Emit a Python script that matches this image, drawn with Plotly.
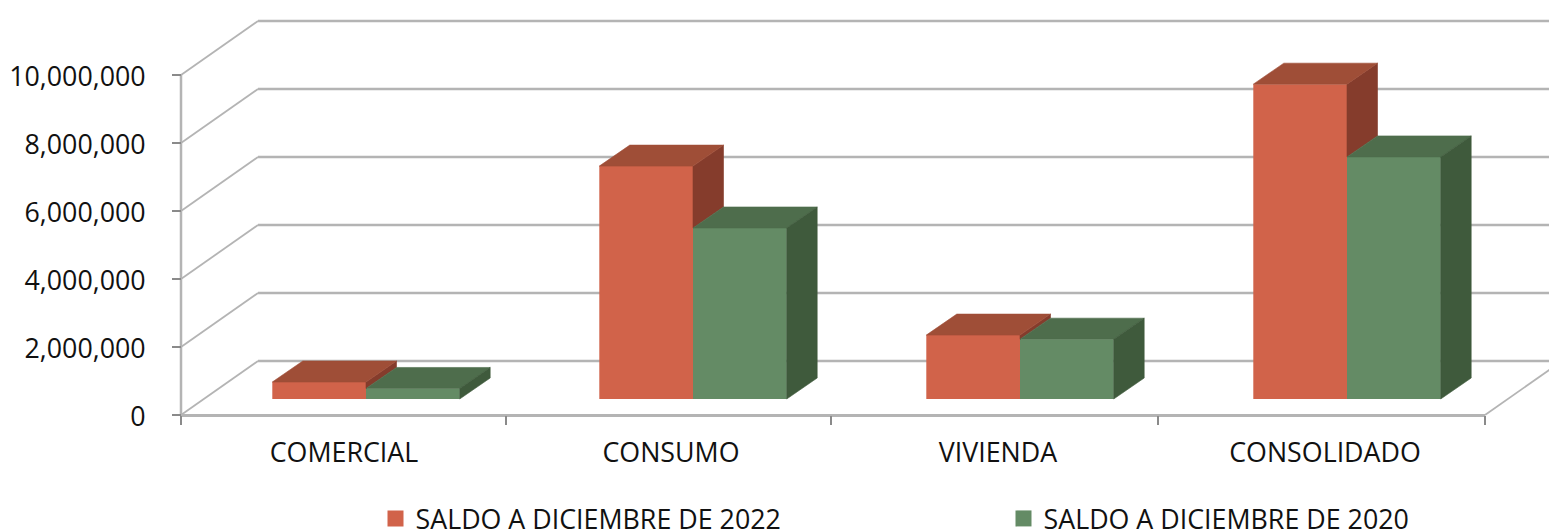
import plotly.graph_objects as go

categories = ["COMERCIAL", "CONSUMO", "VIVIENDA", "CONSOLIDADO"]
series_names = ["SALDO A DICIEMBRE DE 2022", "SALDO A DICIEMBRE DE 2020"]
saldo_2022 = [500000, 6850000, 1880000, 9260000]
saldo_2020 = [310000, 5030000, 1760000, 7120000]
y_ticks = [0, 2000000, 4000000, 6000000, 8000000, 10000000]

# colours: front, top, side
ORANGE = ("#D1634A", "#9F4E37", "#853C2C")
GREEN = ("#648B65", "#4E6D4C", "#3F5A3C")
GRID = "#b4b4b4"
TICK = "#8a8a8a"
FONT = "Open Sans"
FS = 26.8

W, H = 1549, 530
AX_L, AX_B, AX_R = 181, 415, 1485      # pixels of the chart box front edge
Y_TOP_TICK = 75
PX_CAT = (AX_R - AX_L) / 4
PX_VAL = (AX_B - Y_TOP_TICK) / 10000000

def dx(px): return px / PX_CAT
def dv(px): return px / PX_VAL

x_left = -0.5 - dx(AX_L)
x_right = x_left + dx(W)
y_low = -dv(H - AX_B)
y_high = 10000000 + dv(Y_TOP_TICK)

WALL_DX, WALL_DY = dx(77), dv(54)        # chart box depth
BAR_W = dx(93.7)
BAR_SHIFT = dx(22)                       # bars sit part way back into the box
BAR_PITCH = dx(327)
BAR_BASE = dv(16)
BAR_DX, BAR_DY = dx(30.5), dv(21)        # bar depth
SEAM = dx(1)                             # orange runs under green so no seam shows

idx = list(range(len(categories)))
x_c = [i * BAR_PITCH + BAR_SHIFT for i in idx]
x_o = [c - BAR_W / 2 + SEAM / 2 for c in x_c]
x_g = [c + BAR_W / 2 for c in x_c]

fig = go.Figure()
fig.add_bar(x=x_o, y=saldo_2022, base=BAR_BASE, width=BAR_W + SEAM, marker=dict(color=ORANGE[0], line_width=0),
            name=series_names[0], showlegend=False)
fig.add_bar(x=x_g, y=saldo_2020, base=BAR_BASE, width=BAR_W, marker=dict(color=GREEN[0], line_width=0),
            name=series_names[1], showlegend=False)

def poly(xs, ys, color):
    fig.add_scatter(x=xs + xs[:1], y=ys + ys[:1], mode="lines", fill="toself", fillcolor=color,
                    line=dict(width=0.6, color=color), showlegend=False, hoverinfo="skip")

for i in idx:
    top_o = BAR_BASE + saldo_2022[i]
    top_g = BAR_BASE + saldo_2020[i]
    c = x_c[i]
    l, r = c - BAR_W, c + BAR_W
    # orange side: only the part above the green bar shows
    if top_o > top_g:
        poly([c, c + BAR_DX, c + BAR_DX, c], [top_o, top_o + BAR_DY, top_g + BAR_DY, top_g], ORANGE[2])
    poly([l, l + BAR_DX, c + BAR_DX, c], [top_o, top_o + BAR_DY, top_o + BAR_DY, top_o], ORANGE[1])
    poly([c, c + BAR_DX, r + BAR_DX, r], [top_g, top_g + BAR_DY, top_g + BAR_DY, top_g], GREEN[1])
    poly([r, r + BAR_DX, r + BAR_DX, r], [top_g, top_g + BAR_DY, BAR_BASE + BAR_DY, BAR_BASE], GREEN[2])

# legend entries (one legend box per series so each can be placed on its own)
for name, col, lg in zip(series_names, (ORANGE[0], GREEN[0]), ("legend", "legend2")):
    fig.add_scatter(x=[None], y=[None], mode="markers", name=name, legend=lg,
                    marker=dict(symbol="square", size=16, color=col))

# chart box: walls, floor and axis line sit beneath the bars
shapes = []
def seg(x0, y0, x1, y1, color=GRID, width=2.5):
    shapes.append(dict(type="line", xref="x", yref="y", x0=x0, y0=y0, x1=x1, y1=y1,
                       layer="below", line=dict(color=color, width=width)))
x0_box, x1_box = -0.5, len(categories) - 0.5
for t in y_ticks:
    seg(x0_box, t, x0_box + WALL_DX, t + WALL_DY, width=1.8)
    seg(x0_box + WALL_DX, t + WALL_DY, x_right, t + WALL_DY)
seg(x0_box, 0, x0_box, y_ticks[-1])
seg(x0_box, -dv(0.5), x1_box, -dv(0.5), width=3)
seg(x1_box, 0, x1_box + WALL_DX, WALL_DY, width=1.8)

def legend_at(px):
    return dict(orientation="v", x=px / W, xanchor="left", y=(H - 518.5) / H, yanchor="middle",
                bgcolor="rgba(0,0,0,0)", font=dict(family=FONT, size=FS), itemclick=False,
                borderwidth=0, tracegroupgap=0)

fig.update_layout(
    width=W, height=H, margin=dict(l=0, r=0, t=0, b=0, pad=0, autoexpand=False),
    paper_bgcolor="white", plot_bgcolor="white", barmode="overlay", shapes=shapes,
    font=dict(family=FONT, size=FS, color="#111111"),
    legend=legend_at(375.5), legend2=legend_at(1003.5),
    xaxis=dict(range=[x_left, x_right], anchor="free", position=(H - AX_B) / H, domain=[0, 1],
               tickmode="array", tickvals=[i * BAR_PITCH for i in idx], ticktext=categories, ticks="", showgrid=False,
               zeroline=False, showline=False, ticklabelstandoff=19,
               minor=dict(tickmode="array", tickvals=[-0.5 + dx(p) for p in (0, 325, 650, 977, 1304)],
                          ticks="outside", ticklen=9, tickwidth=2, tickcolor=TICK, showgrid=False)),
    yaxis=dict(range=[y_low, y_high], anchor="free", position=AX_L / W, domain=[0, 1],
               tickmode="array", tickvals=y_ticks, tickformat=",", ticks="outside", ticklen=9,
               tickwidth=2, tickcolor=TICK, showgrid=False, zeroline=False, showline=False,
               ticklabelstandoff=21, ticklabelshift=2),
)
fig.write_html("out.html", post_script="document.body.style.margin='0';", config={"displayModeBar": False})
